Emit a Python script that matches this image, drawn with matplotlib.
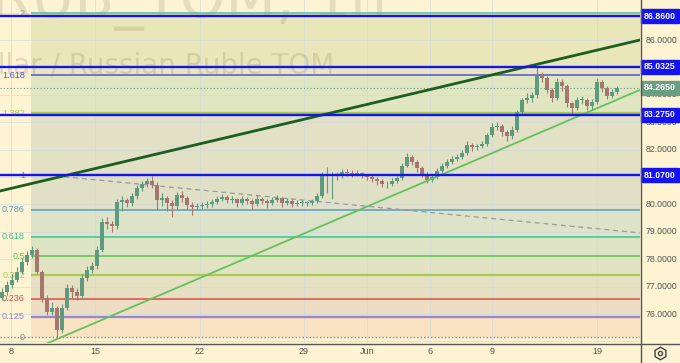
import numpy as np
import matplotlib
matplotlib.use('Agg')
import matplotlib.pyplot as plt
from matplotlib.patches import Rectangle
from matplotlib.transforms import blended_transform_factory

# ---------------- data ----------------
first_open = 76.60
closes = [76.80, 77.06, 77.24, 77.53, 77.90, 78.15, 78.34, 77.53, 76.58, 76.07,
          76.22, 75.42, 76.22, 76.95, 76.80, 76.66, 77.31, 77.61, 77.75, 78.34,
          79.36, 79.28, 79.21, 80.09, 80.16, 80.05, 80.31, 80.60, 80.74, 80.85,
          80.71, 80.16, 80.23, 80.05, 79.94, 80.34, 80.23, 79.98, 79.91, 79.94,
          79.98, 80.01, 80.09, 80.20, 80.27, 80.16, 80.20, 80.05, 80.20, 80.12,
          80.01, 80.20, 80.12, 80.05, 80.16, 80.23, 80.05, 80.12, 80.01, 80.05,
          80.05, 80.05, 80.12, 80.31, 81.04, 81.07, 81.07, 81.04, 81.18, 81.15,
          81.11, 81.15, 81.04, 81.00, 80.93, 80.85, 80.74, 80.74, 80.85, 80.96,
          81.40, 81.73, 81.55, 81.33, 81.11, 80.89, 81.00, 81.22, 81.40, 81.55,
          81.66, 81.73, 81.88, 82.17, 82.09, 82.13, 82.20, 82.53, 82.82, 82.86,
          82.64, 82.50, 82.72, 83.37, 83.81, 83.88, 83.99, 84.69, 84.61, 84.18,
          83.88, 84.47, 84.32, 83.70, 83.52, 83.81, 83.81, 83.59, 83.74, 84.47,
          84.25, 83.96, 84.10, 84.265]
highs = [76.95, 77.20, 77.45, 77.70, 78.05, 78.30, 78.47, 78.40, 77.60, 76.70,
         76.45, 76.30, 76.35, 77.10, 77.05, 76.95, 77.45, 77.75, 77.90, 78.50,
         79.50, 79.55, 79.40, 80.20, 80.30, 80.25, 80.40, 80.70, 80.85, 80.95,
         81.05, 80.80, 80.40, 80.30, 80.15, 80.45, 80.48, 80.30, 80.08, 80.05,
         80.10, 80.12, 80.18, 80.30, 80.38, 80.33, 80.30, 80.25, 80.32, 80.28,
         80.18, 80.35, 80.28, 80.20, 80.28, 80.35, 80.28, 80.22, 80.18, 80.15,
         80.15, 80.14, 80.20, 80.40, 81.20, 81.35, 81.20, 81.18, 81.30, 81.28,
         81.25, 81.25, 81.20, 81.12, 81.08, 81.00, 80.92, 80.85, 80.95, 81.05,
         81.50, 81.88, 81.82, 81.62, 81.40, 81.20, 81.12, 81.32, 81.50, 81.65,
         81.75, 81.85, 82.00, 82.30, 82.25, 82.22, 82.30, 82.62, 82.98, 83.00,
         82.92, 82.70, 82.85, 83.45, 83.90, 84.05, 84.10, 85.03, 84.85, 84.68,
         84.25, 84.62, 84.58, 84.40, 83.75, 83.92, 83.95, 83.88, 83.85, 84.62,
         84.55, 84.32, 84.22, 84.32]
lows = [76.50, 76.70, 76.95, 77.15, 77.45, 77.80, 78.05, 77.45, 76.45, 75.95,
        75.98, 75.16, 75.30, 76.15, 76.60, 76.50, 76.55, 77.20, 77.50, 77.65,
        78.25, 79.10, 79.00, 79.10, 79.75, 79.90, 79.95, 80.20, 80.50, 80.65,
        80.60, 79.80, 79.95, 79.75, 79.55, 79.85, 80.10, 79.80, 79.60, 79.80,
        79.82, 79.88, 79.92, 80.00, 80.12, 80.05, 80.05, 79.92, 79.98, 80.02,
        79.85, 79.95, 80.00, 79.88, 79.98, 80.08, 79.92, 79.98, 79.90, 79.93,
        79.95, 79.96, 79.98, 80.05, 80.25, 80.40, 80.20, 80.90, 80.95, 81.02,
        81.00, 81.02, 80.95, 80.90, 80.82, 80.72, 80.62, 80.60, 80.68, 80.78,
        80.90, 81.35, 81.45, 81.20, 81.00, 80.78, 80.80, 80.92, 81.15, 81.32,
        81.48, 81.60, 81.65, 81.80, 81.95, 81.98, 82.05, 82.12, 82.45, 82.70,
        82.50, 82.30, 82.40, 82.65, 83.28, 83.70, 83.75, 83.90, 84.45, 84.05,
        83.75, 83.80, 84.15, 83.55, 83.33, 83.45, 83.65, 83.45, 83.50, 83.68,
        84.10, 83.85, 83.88, 84.02]

day_labels = ['8', '15', '22', '29', 'Jun', '6', '9', '19']
day_tick_pos = [1.8, 18.6, 39.6, 60.4, 73.0, 85.6, 98.0, 119.0]

fib_low, fib_high = 75.16, 81.07
fib_ratios = [0, 0.125, 0.236, 0.382, 0.5, 0.618, 0.786, 1, 1.382, 1.618, 2]
fib_labels = ['0', '0.125', '0.236', '0.382', '0.5', '0.618', '0.786', '1', '1.382', '1.618', '2']
fib_colors = ['#8a8a8a', '#9a86c8', '#e04a4a', '#a8cc50', '#5cc24a', '#3cc48c',
              '#5a9fbf', '#8a8a8a', '#a8cc50', '#4a55e0', '#4cc8a0']
band_colors = ['#FAE3C3', '#EDDDC2', '#E6E0C3', '#E1E3C3', '#DDE3C5', '#DCE3C9',
               '#E0E0C7', '#E2E0C5', '#E0E5C2', '#E9E6B9']

blue_levels = [86.86, 85.0325, 83.275, 81.07]
last_price = 84.265
price_ticks = [76, 77, 78, 79, 80, 81, 82, 83, 84, 85, 86]

dark_trend = ([-0.4, 127.6], [80.49, 86.0])
light_trend = ([8.0, 127.6], [74.85, 84.18])
dashed_trend = ([9.0, 127.6], [81.07, 78.96])

# ---------------- figure ----------------
CREAM = '#FEF3D3'
W, H = 680, 363
fig = plt.figure(figsize=(W / 100, H / 100), dpi=100)
fig.patch.set_facecolor(CREAM)

ymin, ymax = 74.942, 87.460
xmin, xmax = -0.4, 127.6
ax = fig.add_axes([0, 20 / H, 640 / W, 343 / H])
ax.set_facecolor(CREAM)
ax.set_xlim(xmin, xmax)
ax.set_ylim(ymin, ymax)
ax.axis('off')

ax2 = fig.add_axes([640 / W, 20 / H, 40 / W, 343 / H])
ax2.set_xlim(0, 40)
ax2.set_ylim(ymin, ymax)
ax2.axis('off')

ov = fig.add_axes([0, 0, 1, 1], zorder=10)
ov.set_xlim(0, W)
ov.set_ylim(H, 0)
ov.axis('off')
ov.patch.set_alpha(0)

fib_start = 31 / 640.0
levels = [fib_low + r * (fib_high - fib_low) for r in fib_ratios]

# bands
for i in range(len(levels) - 1):
    ax.axhspan(levels[i], levels[i + 1], xmin=fib_start, xmax=1, color=band_colors[i], lw=0, zorder=0)

# grid
for p in range(75, 88):
    ax.axhline(p, color='#d3dadf', lw=0.6, zorder=0.5, alpha=0.8)
for t in day_tick_pos:
    ax.axvline(t, color='#d3dadf', lw=0.6, zorder=0.5, alpha=0.8)

# watermark
bt = blended_transform_factory(ov.transData, ov.transData)
ax.text(387, 17, 'USDRUB_TOM, 1h', transform=bt, fontsize=42, color='#a09a70', alpha=0.25,
        ha='right', va='baseline', zorder=1)
ax.text(334, 73, 'U.S. Dollar / Russian Ruble TOM', transform=bt, fontsize=20, color='#a09a70',
        alpha=0.3, ha='right', va='baseline', zorder=1)

# fib lines & labels
lab_tr = blended_transform_factory(ov.transData, ax.transData)
x_f0 = xmin + fib_start * (xmax - xmin)
for r, lv, col, lab in zip(fib_ratios, levels, fib_colors, fib_labels):
    lw = 1.6 if lab in ('0.125', '0.382', '1.382') else 1.1
    if lab == '0':
        ax.axhline(lv, color=col, lw=1.0, ls=(0, (1, 1.5)), zorder=2)
    else:
        ax.hlines(lv, x_f0, xmax, color=col, lw=lw, zorder=2)
    ax.text(25, lv, lab, transform=lab_tr, ha='right', va='center', fontsize=6.6,
            color=col, family='Liberation Sans', zorder=2)

# dashed trend
ax.plot(dashed_trend[0], dashed_trend[1], color='#9a9a9a', lw=0.9, ls=(0, (4, 3)), zorder=2)

# current price dotted
ax.axhline(last_price, color='#6b9f84', lw=0.8, ls=(0, (1, 2)), zorder=2)

# candles
n = len(closes)
x = np.arange(n)
opens = np.array([first_open] + closes[:-1])
cl = np.array(closes)
up = cl >= opens
cols = np.where(up, '#5f9a7c', '#a6776e')
ax.vlines(x, lows, highs, colors=cols, lw=0.8, zorder=3)
body_h = np.where(np.abs(cl - opens) < 0.02, 0.02, cl - opens)
ax.bar(x, body_h, bottom=opens, width=0.7, color=cols, lw=0, zorder=3)

# trend lines
ax.plot(light_trend[0], light_trend[1], color='#66c060', lw=1.3, zorder=4)
ax.plot(dark_trend[0], dark_trend[1], color='#1b5e20', lw=2.0, zorder=4)

# blue horizontal lines
for lv in blue_levels:
    ax.axhline(lv, color='#1414f0', lw=1.7, zorder=5)

# price axis labels
for p in price_ticks:
    ax2.text(6, p, f'{p:.4f}', ha='left', va='center', fontsize=6.3, color='#555555',
             family='Liberation Sans')
box_h = 14 / 27.4
for lv in blue_levels:
    ax2.add_patch(Rectangle((1, lv - box_h / 2), 38, box_h, color='#1414f0', zorder=3))
    ax2.text(20, lv, f'{lv:.4f}', ha='center', va='center', fontsize=6.3, color='white',
             fontweight='bold', family='Liberation Sans', zorder=4)
ax2.add_patch(Rectangle((1, last_price - box_h / 2), 38, box_h, color='#6b9f84', zorder=3))
ax2.text(20, last_price, f'{last_price:.4f}', ha='center', va='center', fontsize=6.3,
         color='white', fontweight='bold', family='Liberation Sans', zorder=4)

# x labels
xt = blended_transform_factory(ax.transData, ov.transData)
for t, lab in zip(day_tick_pos, day_labels):
    ax.text(t, 352, lab, transform=xt, ha='center', va='center', fontsize=6.5,
            color='#555555', family='Liberation Sans', clip_on=False)

# separators
ov.plot([0, W], [343.5, 343.5], color='#555555', lw=1.0)
ov.plot([640.5, 640.5], [0, H], color='#555555', lw=1.0)
ov.plot(660, 353, marker='h', ms=9, mfc='none', mec='#444444', mew=1.0)
ov.plot(660, 353, marker='o', ms=3, mfc='none', mec='#444444', mew=1.0)

fig.savefig('out.png', dpi=100, facecolor=CREAM)
